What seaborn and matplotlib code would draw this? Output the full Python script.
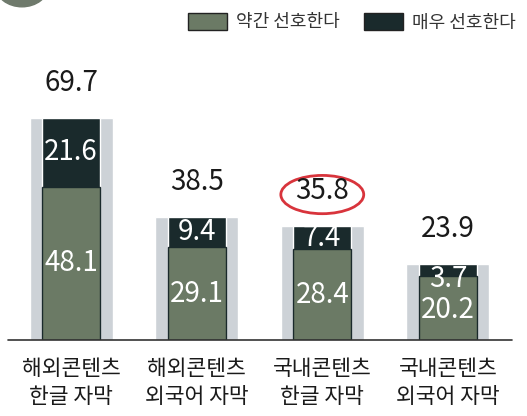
import pandas as pd
import seaborn as sns
import matplotlib.pyplot as plt
from matplotlib.patches import Patch, Ellipse, Circle

sns.set_theme(style="white")
plt.rcParams['font.family'] = ['Noto Sans CJK KR', 'DejaVu Sans']

# data
categories = ['해외콘텐츠\n한글 자막', '해외콘텐츠\n외국어 자막',
              '국내콘텐츠\n한글 자막', '국내콘텐츠\n외국어 자막']
somewhat = [48.1, 29.1, 28.4, 20.2]   # 약간 선호한다
strongly = [21.6, 9.4, 7.4, 3.7]      # 매우 선호한다
totals = [69.7, 38.5, 35.8, 23.9]
legend_labels = ['약간 선호한다', '매우 선호한다']

GREEN = '#6b7a65'
DARK = '#1a2a2c'
GREY = '#cdd2d7'

df = pd.DataFrame({'cat': categories, 'somewhat': somewhat,
                   'strongly': strongly, 'total': totals})

fig = plt.figure(figsize=(5.27, 4.16), dpi=100)
ax = fig.add_axes([0, 76 / 416, 1, 340 / 416])

# grey backdrop, dark (full total) then green on top of it
sns.barplot(data=df, x='cat', y='total', color=GREY, width=0.66,
            saturation=1, ax=ax)
sns.barplot(data=df, x='cat', y='total', color=DARK, width=0.46,
            saturation=1, ax=ax)
sns.barplot(data=df, x='cat', y='somewhat', color=GREEN, width=0.46,
            saturation=1, edgecolor=DARK, linewidth=1, ax=ax)

ax.set_xlim(-0.566, 3.63)
ax.set_ylim(0, 106.6)
ax.set_xlabel('')
ax.set_ylabel('')
ax.set_yticks([])
ax.set_xticks([])
for s in ax.spines.values():
    s.set_visible(False)
ax.axhline(0, xmin=8 / 527, xmax=512 / 527, color='#333333', lw=1.2,
           clip_on=False)

for i in range(len(categories)):
    g, d, t = somewhat[i], strongly[i], totals[i]
    small = d < 5
    ax.text(i, g / 2 - (0.6 if small else 0), f'{g}', color='white',
            ha='center', va='center', fontsize=20)
    dy = g + d / 2 if not small else g - 1.0
    ax.text(i, dy, f'{d}', color='white', ha='center', va='center',
            fontsize=20)
    ax.text(i, t + 11, f'{t}', color='#1a1a1a', ha='center', va='center',
            fontsize=20)
    ax.text(i, -5.5, categories[i], color='#1a1a1a', ha='center', va='top',
            fontsize=15.5, linespacing=1.4, fontweight='medium')

# red hand-drawn circle around 35.8
ax.add_patch(Ellipse((2, totals[2] + 9.8), 0.66, 12, fill=False,
                     edgecolor='#d8343c', lw=2))

# cropped icon at top-left
fig.patches.append(Circle((22 / 527, 1 + 14 / 416), 0.05, color='#6f7a6c',
                          transform=fig.transFigure, figure=fig))

handles = [Patch(facecolor=GREEN, edgecolor='#222222', lw=1),
           Patch(facecolor=DARK, edgecolor='#222222', lw=1)]
fig.legend(handles, legend_labels, loc='center right',
           bbox_to_anchor=(1.01, 1 - 22 / 416), ncol=2, frameon=False,
           fontsize=13, handlelength=2.2, handleheight=1.1,
           columnspacing=1.3, handletextpad=0.5, labelcolor='#333333')

fig.savefig('out.png', dpi=100)
